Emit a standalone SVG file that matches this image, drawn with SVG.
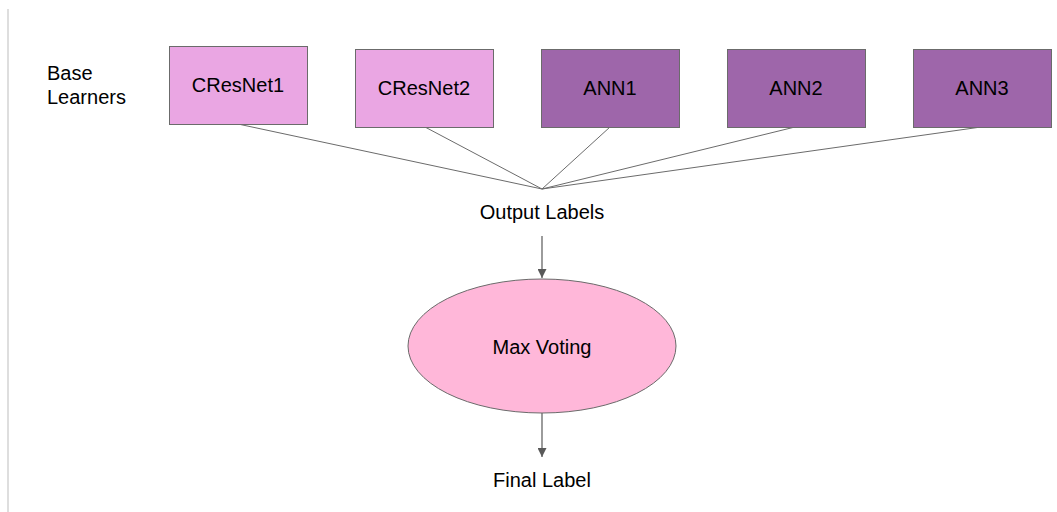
<svg xmlns="http://www.w3.org/2000/svg" width="1057" height="512" viewBox="0 0 1057 512">
  <style>
    text { font-family: "Liberation Sans", Arial, sans-serif; font-size: 20px; fill: #000; }
    .mid { text-anchor: middle; }
    .cres { fill: #eaa6e3; stroke: #6b6b6b; stroke-width: 1; }
    .ann { fill: #9e66aa; stroke: #6b6b6b; stroke-width: 1; }
    .vote { fill: #ffb7d9; stroke: #6b6b6b; stroke-width: 1; }
    .link { stroke: #6b6b6b; stroke-width: 1; fill: none; }
    .flow { stroke: #595959; stroke-width: 1.2; fill: none; marker-end: url(#head); }
  </style>
  <defs>
    <marker id="head" viewBox="0 0 10 10" refX="10" refY="5" markerWidth="9" markerHeight="9" markerUnits="userSpaceOnUse" orient="auto">
      <path d="M0,0 L10,5 L0,10 z" fill="#595959"/>
    </marker>
  </defs>

  <rect width="1057" height="512" fill="#ffffff"/>
  <!-- page margin rule -->
  <line x1="8" y1="9" x2="8" y2="512" stroke="#dedede" stroke-width="2"/>

  <g id="base-learners-label">
    <text x="47" y="80">Base</text>
    <text x="47" y="104">Learners</text>
  </g>

  <g id="connectors">
    <line class="link" x1="238" y1="124" x2="542" y2="189"/>
    <line class="link" x1="425" y1="127" x2="542" y2="189"/>
    <line class="link" x1="610" y1="127" x2="542" y2="189"/>
    <line class="link" x1="795" y1="127" x2="542" y2="189"/>
    <line class="link" x1="981" y1="127" x2="542" y2="189"/>
    <line class="flow" x1="542" y1="236" x2="542" y2="278"/>
    <line class="flow" x1="542" y1="413" x2="542" y2="457"/>
  </g>

  <g id="cresnet1">
    <rect class="cres" x="169.5" y="46.5" width="138" height="78"/>
    <text class="mid" x="238" y="92">CResNet1</text>
  </g>
  <g id="cresnet2">
    <rect class="cres" x="355.5" y="49.5" width="138" height="78"/>
    <text class="mid" x="424" y="95">CResNet2</text>
  </g>
  <g id="ann1">
    <rect class="ann" x="541.5" y="49.5" width="138" height="78"/>
    <text class="mid" x="610" y="95">ANN1</text>
  </g>
  <g id="ann2">
    <rect class="ann" x="727.5" y="49.5" width="138" height="78"/>
    <text class="mid" x="796" y="95">ANN2</text>
  </g>
  <g id="ann3">
    <rect class="ann" x="913.5" y="49.5" width="138" height="78"/>
    <text class="mid" x="982" y="95">ANN3</text>
  </g>

  <g id="output-labels">
    <text class="mid" x="542" y="219">Output Labels</text>
  </g>

  <g id="max-voting">
    <ellipse class="vote" cx="542" cy="346" rx="134" ry="67"/>
    <text class="mid" x="542" y="354">Max Voting</text>
  </g>

  <g id="final-label">
    <text class="mid" x="542" y="487">Final Label</text>
  </g>
</svg>
